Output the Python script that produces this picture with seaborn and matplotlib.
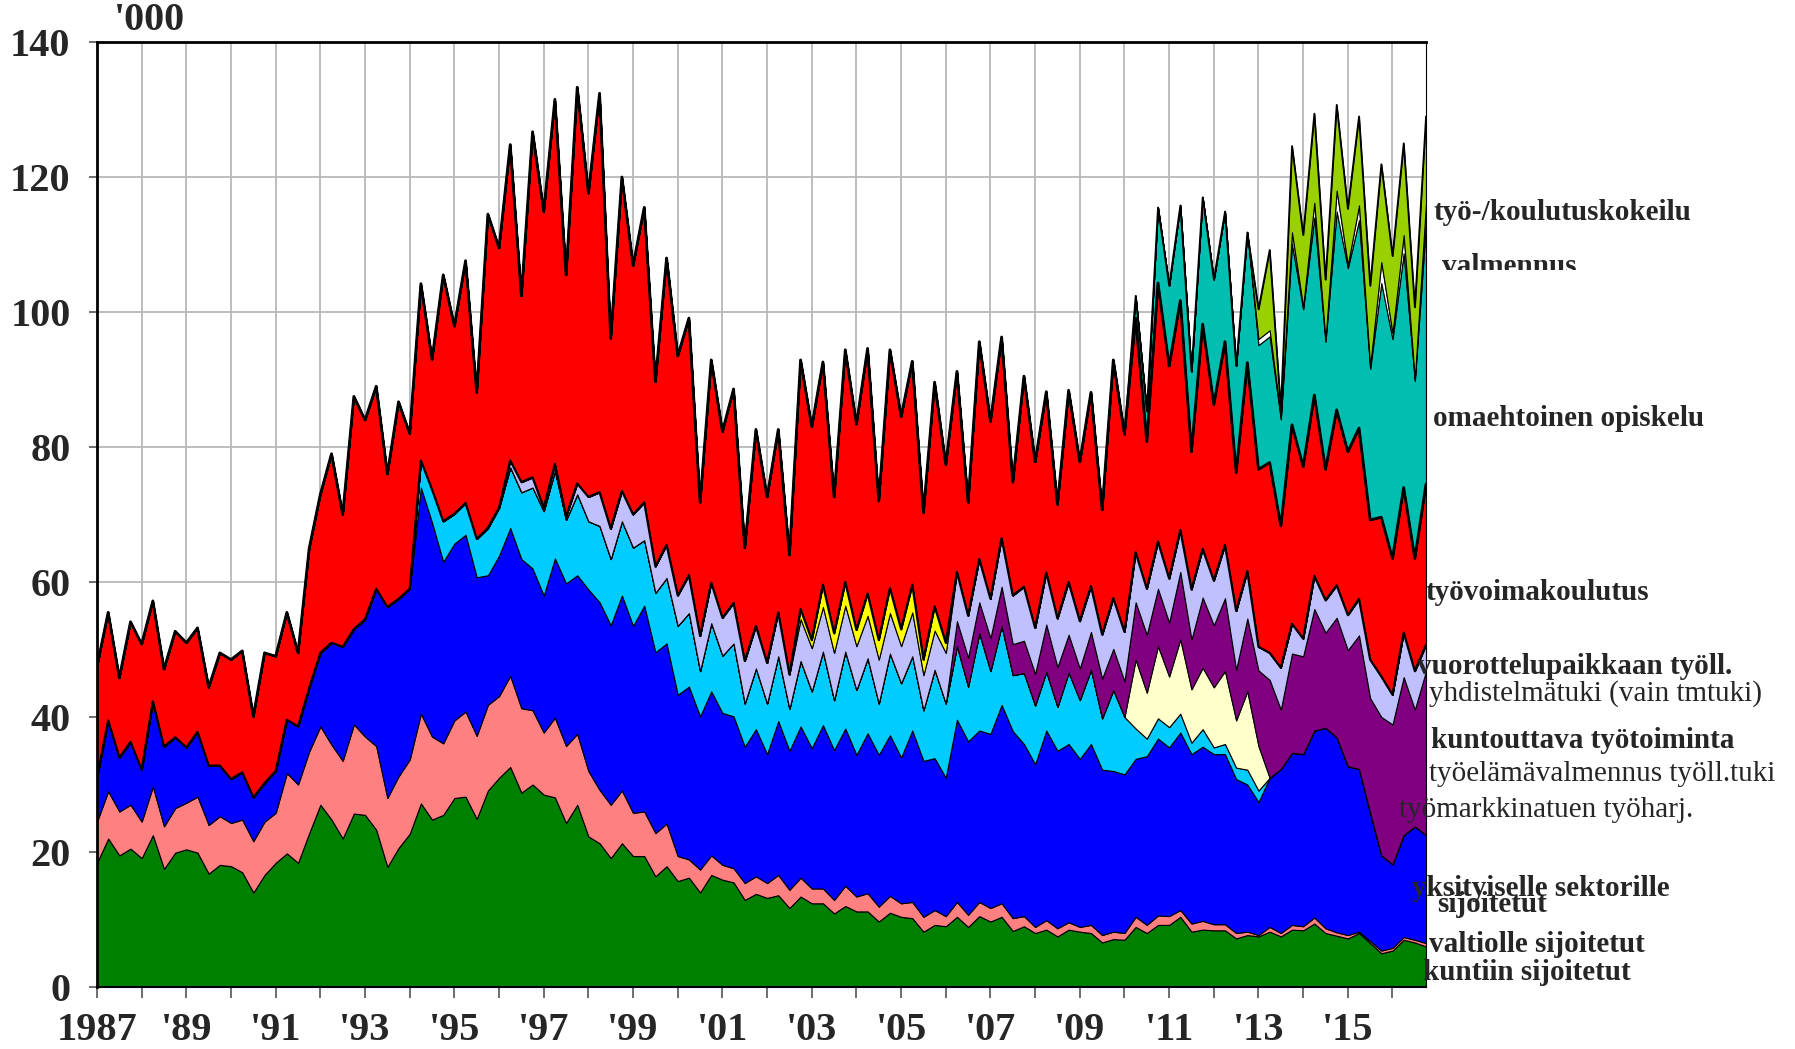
import numpy as np
import matplotlib
matplotlib.use("Agg")
import matplotlib.pyplot as plt
import seaborn as sns
from matplotlib.patches import Rectangle

# ---- time axis: 4 readings per year (Jan, Apr, Jul, Oct), 1987-2016 ----
years = list(range(1987, 2017))
months = [1, 4, 7, 10]

# ---- series values, thousands of persons ----
kuntiin = [
    18.4, 22.0, 19.5, 20.5,  19.1, 22.5, 17.5, 19.9,  20.4, 19.9, 16.8, 18.1,
    17.9, 17.0, 14.0, 16.6,  18.4, 19.8, 18.4, 22.8,  27.0, 24.8, 22.0, 25.7,
    25.5, 23.3, 17.8, 20.6,  22.7, 27.2, 24.8, 25.5,  28.0, 28.2, 24.9, 29.1,
    31.0, 32.6, 28.8, 30.0,  28.5, 28.1, 24.3, 27.0,  22.3, 21.3, 19.1, 21.3,
    19.4, 19.4, 16.4, 17.9,  15.7, 16.2, 14.0, 16.6,  15.9, 15.5, 12.9, 13.8,
    13.2, 13.6, 11.7, 13.4,  12.4, 12.4, 10.9, 12.0,  11.2, 11.2, 9.7, 11.0,
    10.4, 10.2, 8.2, 9.2,    9.0, 10.4, 8.9, 10.5,    9.7, 10.4, 8.3, 9.0,
    8.0, 8.5, 7.5, 8.5,      8.2, 8.0, 6.6, 7.1,      7.0, 8.9, 8.0, 9.2,
    9.2, 10.4, 8.2, 8.5,     8.4, 8.4, 7.2, 7.7,      7.5, 8.2, 7.5, 8.5,
    8.4, 9.4, 8.0, 7.6,      7.2, 8.0, 6.5, 5.0,      5.4, 7.0, 6.6, 6.0,
]
valtiolle = [
    6.1, 7.0, 6.5, 6.5,    5.4, 7.2, 6.3, 6.6,    6.9, 8.3, 7.2, 7.2,
    6.4, 7.8, 7.6, 7.9,    7.4, 11.9, 11.6, 12.1, 11.6, 11.1, 11.5, 13.2,
    11.6, 12.4, 10.2, 10.6, 11.0, 13.3, 12.3, 10.6, 11.5, 12.6, 12.3, 12.7,
    12.1, 13.5, 12.5, 11.0, 9.2, 11.8, 11.4, 10.5, 9.7, 7.9, 7.9, 7.8,
    6.4, 6.6, 6.4, 6.3,    3.7, 2.7, 3.4, 2.9,    2.2, 2.1, 2.5, 2.6,
    2.2, 3.0, 2.7, 2.8,    2.2, 2.2, 2.0, 3.0,    2.2, 2.7, 2.2, 2.5,
    2.0, 2.4, 2.2, 2.2,    1.5, 2.2, 1.8, 2.1,    2.0, 2.0, 1.9, 1.5,
    0.9, 1.4, 1.2, 1.1,    0.7, 1.2, 1.1, 1.1,    1.0, 1.5, 1.2, 1.4,
    1.3, 1.0, 1.2, 1.3,    0.9, 0.9, 0.8, 0.5,    0.2, 0.7, 0.5, 0.7,
    0.6, 0.9, 0.7, 0.5,    0.5, 0.2, 0.3, 0.4,    0.4, 0.4, 0.4, 0.5,
]
yksityiselle = [
    6.5, 10.5, 8.0, 9.3,   7.7, 12.6, 11.8, 10.5, 8.2, 9.6, 8.8, 7.5,
    6.5, 7.0, 6.5, 5.7,    6.2, 7.9, 8.6, 9.4,    10.9, 15.1, 16.9, 14.1,
    17.4, 23.3, 28.3, 26.3, 25.3, 33.5, 31.7, 26.9, 26.2, 26.2, 23.5, 19.2,
    20.8, 21.9, 22.1, 21.0, 20.3, 23.6, 24.1, 23.5, 26.9, 27.8, 26.6, 28.9,
    27.7, 30.5, 26.8, 26.7, 23.9, 25.6, 22.7, 24.3, 22.5, 22.5, 20.2, 21.8,
    19.1, 22.8, 20.6, 22.4, 20.8, 24.2, 22.2, 23.3, 21.0, 23.7, 22.5, 23.8,
    21.6, 25.4, 23.1, 22.5, 20.5, 27.0, 25.7, 25.4, 25.8, 29.4, 27.7, 25.5,
    24.1, 28.1, 26.3, 26.4, 24.9, 26.8, 24.5, 23.8, 23.5, 23.4, 25.0, 26.2,
    25.0, 26.3, 25.1, 25.8, 25.2, 25.2, 22.8, 21.8, 19.7, 22.1, 24.3, 25.5,
    25.5, 27.7, 29.7, 28.9, 25.0, 24.1, 19.0, 14.1, 12.4, 15.1, 16.8, 16.0,
]
tm_tyoharj = [0.0] * 28 + [
    0.0, 4.0, 4.9, 6.0,    4.4, 4.7, 5.7, 7.0,    7.1, 9.0, 9.9, 12.0,
    12.5, 13.0, 9.4, 12.0, 10.1, 11.3, 9.8, 11.0, 11.6, 9.7, 8.8, 9.7,
    10.2, 10.9, 6.7, 10.1, 8.5, 10.8, 6.4, 9.0,   7.5, 9.6, 6.2, 9.7,
    8.4, 10.9, 7.4, 11.4,  9.6, 11.1, 7.6, 12.1,  11.0, 11.0, 7.5, 13.1,
    11.0, 10.9, 8.1, 14.4, 9.3, 11.7, 8.3, 10.5,  8.7, 8.7, 6.5, 10.6,
    8.7, 11.0, 7.6, 12.0,  8.5, 4.5, 2.6, 3.0,    3.0, 2.8, 1.7, 2.6,
    1.0, 1.5, 1.7, 2.2,    1.7, 0.0, 0.0, 0.0,
] + [0.0] * 12
tyoelamavalm = [0.0] * 92 + [
    0.0, 10.2, 6.8, 10.7,  7.5, 11.0, 7.9, 9.1,   8.9, 10.8, 7.0, 11.6,
    6.6, 0.0, 0.0, 0.0,
] + [0.0] * 12
kuntouttava = [0.0] * 76 + [
    0.0, 3.7, 4.3, 4.6,    4.9, 5.8, 4.6, 4.8,    4.7, 7.0, 5.9, 5.6,
    4.7, 5.6, 5.9, 6.1,    5.3, 8.5, 8.6, 8.5,    8.0, 10.0, 7.4, 10.4,
    9.2, 10.8, 7.5, 10.8,  11.2, 14.5, 8.8, 14.7, 14.5, 18.0, 14.1, 17.7,
    17.2, 19.8, 17.0, 20.5, 20.7, 23.4, 17.3, 24.3,
]
vuorottelu = [0.0] * 36 + [
    0.0, 1.0, 1.5, 1.5,    0.5, 1.0, 0.5, 1.6,    3.6, 5.0, 4.5, 4.5,
    4.9, 5.6, 3.9, 4.9,    4.5, 5.6, 5.2, 6.0,    5.6, 6.0, 6.3, 6.3,
    6.0, 6.5, 5.1, 6.2,    6.4, 6.6, 7.0, 6.8,    6.5, 6.3, 6.5, 6.0,
    5.5, 6.5, 5.2, 5.8,    7.5, 7.3, 6.2, 6.4,    5.8, 7.2, 7.2, 8.0,
    6.8, 7.7, 7.2, 7.8,    7.0, 6.8, 6.5, 7.5,    7.3, 7.4, 6.8, 7.0,
    6.5, 6.2, 7.4, 7.2,    6.6, 7.9, 8.7, 7.0,    3.5, 4.0, 6.2, 4.4,
    2.6, 4.9, 4.8, 4.8,    5.2, 5.4, 5.7, 6.0,    4.4, 6.6, 5.7, 3.9,
]
yhdistelmatuki = [0.0] * 60 + [
    0.0, 0.0, 0.0, 1.5,    1.2, 3.3, 2.9, 3.5,    2.4, 3.3, 2.9, 3.7,
    2.5, 4.1, 2.3, 3.6,    1.5, 0.0, 0.0, 0.0,
] + [0.0] * 40
tyovoimakoulutus = [
    16.5, 16.0, 11.8, 17.8, 18.6, 14.9, 11.5, 15.7, 15.5, 15.4, 11.6, 16.7,
    17.7, 18.0, 12.0, 19.3, 17.0, 15.9, 10.9, 20.7, 23.5, 28.0, 19.6, 34.5,
    29.5, 30.0, 19.7, 29.2, 23.0, 26.2, 19.3, 36.5, 27.8, 35.9, 21.7, 46.5,
    38.5, 46.8, 27.6, 51.2, 43.9, 54.0, 35.8, 58.7, 45.0, 59.1, 28.2, 46.5,
    36.9, 43.7, 27.4, 42.5, 35.5, 38.1, 19.8, 33.0, 27.6, 31.7, 16.8, 29.1,
    24.6, 27.1, 17.7, 36.9, 31.6, 33.0, 20.2, 34.4, 30.5, 36.3, 20.6, 35.3,
    31.5, 33.1, 21.8, 33.2, 26.4, 29.7, 16.8, 32.2, 26.3, 29.8, 16.8, 31.2,
    24.6, 26.8, 16.9, 28.4, 23.6, 28.7, 18.5, 35.3, 29.3, 34.7, 21.8, 38.3,
    31.5, 34.0, 20.4, 33.3, 26.1, 30.1, 20.5, 30.9, 26.3, 28.2, 21.0, 29.5,
    25.5, 26.8, 19.4, 26.0, 24.2, 25.3, 20.7, 23.6, 20.2, 21.5, 16.7, 23.8,
]
omaehtoinen = [0.0] * 92 + [
    0.0, 3.3, 4.5, 11.2,   11.9, 14.1, 11.9, 18.8, 18.5, 19.3, 15.8, 19.3,
    18.4, 18.7, 15.8, 26.8, 23.3, 26.3, 18.9, 29.4, 27.2, 30.8, 22.4, 34.7,
    32.5, 34.7, 26.3, 38.6,
]
valmennus = [0.0] * 104 + [
    0.9, 0.9, 0.5, 1.7,    0.4, 2.2, 0.4, 3.1,    0.5, 2.2, 0.4, 3.1,
    0.9, 2.7, 0.3, 3.1,
]
kokeilu = [0.0] * 104 + [
    4.4, 11.9, 1.0, 12.8,  10.6, 13.2, 8.8, 12.7,  8.3, 13.2, 11.9, 14.5,
    11.4, 13.6, 10.6, 12.8,
]

series_colors = [
    "#008000", "#FF8080", "#0000FF", "#00CCFF", "#FFFFCC", "#800080",
    "#C0C0FF", "#FFFF00", "#FF0000", "#00BFB0", "#FFFFFF", "#99D100",
]
year_ticks = list(range(1987, 2017))
y_ticks = [0, 20, 40, 60, 80, 100, 120, 140]

# ---- style ----
sns.set_theme(style="white")
plt.rcParams["font.family"] = ["Liberation Serif", "DejaVu Serif"]

t = np.array([y + (m - 1) / 12.0 for y in years for m in months])
layers = [kuntiin, valtiolle, yksityiselle, tm_tyoharj, tyoelamavalm, kuntouttava,
          vuorottelu, yhdistelmatuki, tyovoimakoulutus, omaehtoinen, valmennus, kokeilu]
arr = np.array(layers, dtype=float)
cum = np.cumsum(arr, axis=0)

W, H = 1795, 1049
fig = plt.figure(figsize=(W / 100, H / 100), dpi=100)
fig.patch.set_facecolor("white")
ax = fig.add_axes([97 / W, (H - 987) / H, (1426 - 97) / W, (987 - 42) / H])
ax.set_facecolor("white")

ax.stackplot(t, *arr, colors=series_colors, edgecolor="black", linewidth=0.8,
             zorder=2)
# thicker outlines: bottom and top of the training layer, and the overall top
sns.lineplot(x=t, y=cum[7], color="black", linewidth=1.6, ax=ax, zorder=3,
             legend=False)
sns.lineplot(x=t, y=cum[8], color="black", linewidth=2.0, ax=ax, zorder=3,
             legend=False)
sns.lineplot(x=t, y=cum[-1], color="black", linewidth=1.2, ax=ax, zorder=3,
             legend=False)

ax.set_xlim(1987, 2016.75)
ax.set_ylim(0, 140)
ax.set_xticks(year_ticks)
ax.set_xticklabels(["1987" if y == 1987 else ("'" + str(y)[2:] if (y - 1987) % 2 == 0 else "")
                    for y in year_ticks])
ax.set_yticks(y_ticks)
ax.set_yticklabels([str(v) for v in y_ticks])
ax.set_xlabel("")
ax.set_ylabel("")
for lab in ax.get_xticklabels() + ax.get_yticklabels():
    lab.set_fontweight("bold")
    lab.set_fontsize(29)
ax.tick_params(axis="x", direction="out", length=8, width=1.2, color="#555555",
               pad=10, bottom=True)
ax.tick_params(axis="y", direction="out", length=6, width=1.2, color="#555555",
               pad=13, left=True)

ax.set_axisbelow(True)
ax.grid(True, color="#b8b8b8", linewidth=1.3)

for side in ["left", "top"]:
    ax.spines[side].set_color("black")
    ax.spines[side].set_linewidth(2.0)
ax.spines["bottom"].set_color("black")
ax.spines["bottom"].set_linewidth(1.5)
ax.spines["right"].set_color("black")
ax.spines["right"].set_linewidth(0.8)
for sp in ax.spines.values():
    sp.set_zorder(5)

fig.text(114 / W, 1 - 21 / H, "'000", fontsize=29, fontweight="bold",
         ha="left", va="center")

# ---- right-hand series labels (pixel positions in the figure) ----
labels = [
    ("työ-/koulutuskokeilu", 1433, 213, "bold"),
    ("valmennus", 1442, 266, "bold"),
    ("omaehtoinen opiskelu", 1433, 418, "bold"),
    ("työvoimakoulutus", 1425, 593, "bold"),
    ("vuorottelupaikkaan työll.", 1417, 666, "bold"),
    ("yhdistelmätuki (vain tmtuki)", 1429, 694, "normal"),
    ("kuntouttava työtoiminta", 1431, 741, "bold"),
    ("työelämävalmennus työll.tuki", 1429, 774, "normal"),
    ("työmarkkinatuen työharj.", 1399, 810, "normal"),
    ("yksityiselle sektorille", 1412, 888, "bold"),
    ("sijoitetut", 1437, 904, "bold"),
    ("valtiolle sijoitetut", 1429, 944, "bold"),
    ("kuntiin sijoitetut", 1423, 972, "bold"),
]
for txt, px, py, wt in labels:
    fig.text(px / W, 1 - py / H, txt, fontsize=21, fontweight=wt,
             ha="left", va="center", zorder=10)

# the "valmennus" label is cut off at its bottom edge in the original
fig.add_artist(Rectangle((1438 / W, 1 - 288 / H), 160 / W, 18 / H,
                         transform=fig.transFigure, facecolor="white",
                         edgecolor="none", zorder=20))

fig.savefig("out.png", dpi=100, facecolor="white")
